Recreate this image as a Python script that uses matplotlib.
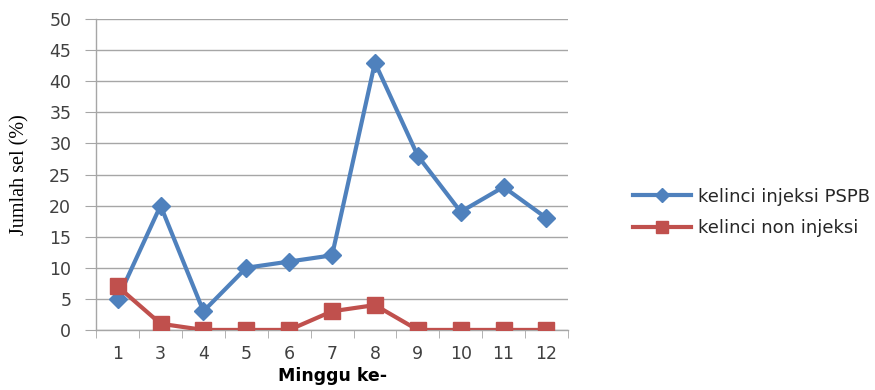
import matplotlib
matplotlib.use("Agg")
import matplotlib.pyplot as plt
import numpy as np

weeks = ["1", "3", "4", "5", "6", "7", "8", "9", "10", "11", "12"]
pspb = [5, 20, 3, 10, 11, 12, 43, 28, 19, 23, 18]
non_inj = [7, 1, 0, 0, 0, 3, 4, 0, 0, 0, 0]

blue = "#4F81BD"
red = "#C0504D"
grid_c = "#a6a6a6"

fig = plt.figure(figsize=(8.75, 3.9), dpi=100)
ax = fig.add_axes([0.11, 0.154, 0.539, 0.797])

x = np.arange(len(weeks))
ax.plot(x, pspb, color=blue, lw=3.0, marker="D", ms=9.5, label="kelinci injeksi PSPB", zorder=3)
ax.plot(x, non_inj, color=red, lw=3.0, marker="s", ms=11.5, label="kelinci non injeksi", zorder=3)

ax.set_xlim(-0.5, len(weeks) - 0.5)
ax.set_ylim(0, 50)
ax.set_yticks(range(0, 51, 5))
ax.set_xticks(x)
ax.set_xticklabels(weeks)
ax.set_xticks(np.arange(-0.5, len(weeks), 1), minor=True)
ax.tick_params(axis="x", which="major", length=0, pad=11)
ax.tick_params(axis="x", which="minor", length=6, color=grid_c, direction="out")
ax.tick_params(axis="y", length=8, color=grid_c, direction="out", pad=10)
for lab in ax.get_xticklabels() + ax.get_yticklabels():
    lab.set_fontfamily("DejaVu Sans")
    lab.set_fontsize(12.5)
    lab.set_color("#404040")

ax.grid(axis="y", color=grid_c, lw=1.0)
ax.set_axisbelow(True)
for s in ["top", "right"]:
    ax.spines[s].set_visible(False)
for s in ["left", "bottom"]:
    ax.spines[s].set_color(grid_c)
    ax.spines[s].set_linewidth(1.0)

ax.set_ylabel("Jumlah sel (%)", fontfamily="Liberation Serif", fontsize=14.5, labelpad=14)
ax.set_xlabel("Minggu ke-", fontfamily="DejaVu Sans", fontsize=12.5, fontweight="bold", labelpad=3)

leg = fig.legend(loc="center left", bbox_to_anchor=(0.705, 0.455), frameon=False,
                 prop={"family": "DejaVu Sans", "size": 13}, handlelength=3.2,
                 labelspacing=0.75, handletextpad=0.4, markerscale=0.8)
for t in leg.get_texts():
    t.set_color("#262626")

fig.savefig("out.png", dpi=100)
